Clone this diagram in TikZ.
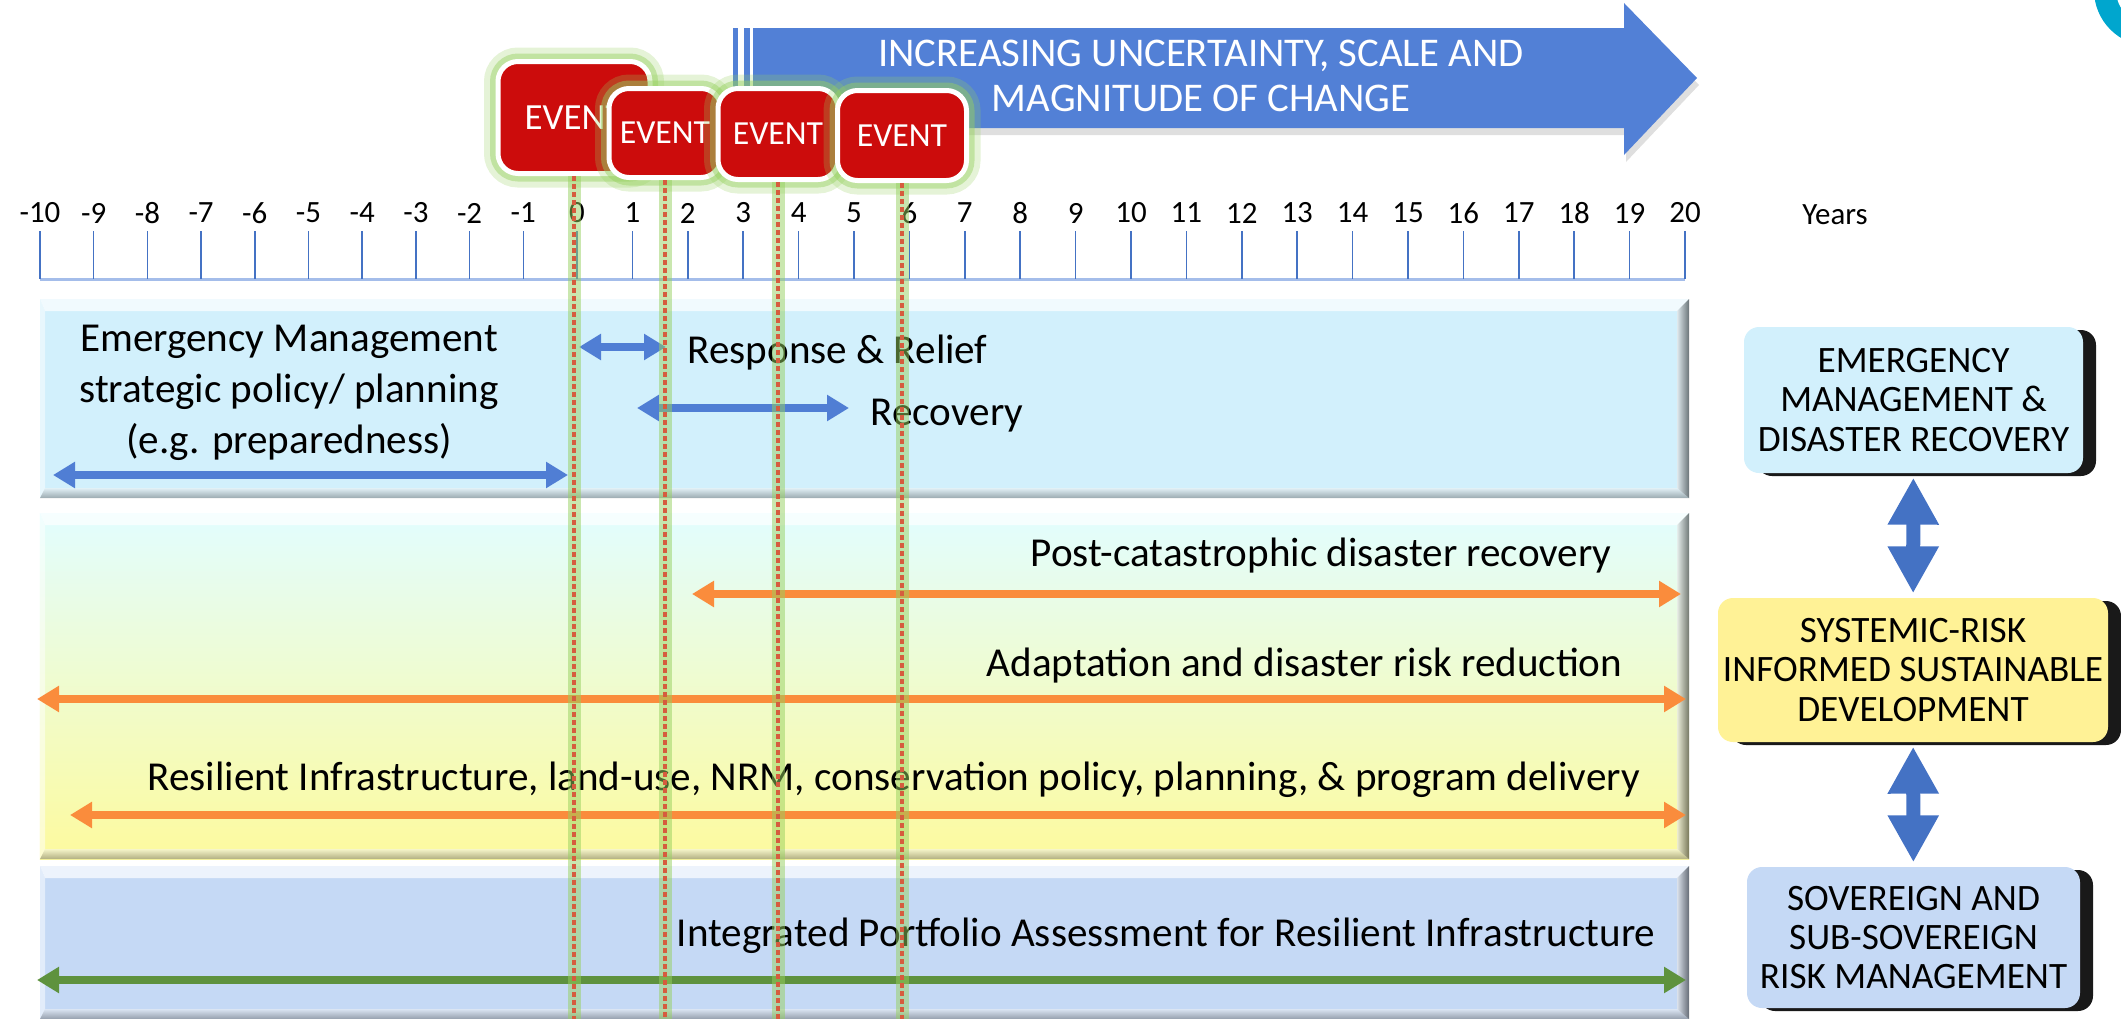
\documentclass[tikz,border=0pt]{standalone}
\usepackage{fontspec}
\setmainfont{Carlito}
\usetikzlibrary{arrows.meta,shadows}

\definecolor{changeblue}{RGB}{82,128,214}
\definecolor{tickblue}{RGB}{68,114,196}
\definecolor{axisblue}{RGB}{164,189,234}
\definecolor{eventred}{RGB}{204,12,12}
\definecolor{glowgreen}{RGB}{150,208,95}
\definecolor{dotred}{RGB}{214,92,62}
\definecolor{emfill}{RGB}{210,240,252}
\definecolor{sdtop}{RGB}{226,253,255}
\definecolor{sdmid}{RGB}{246,253,208}
\definecolor{sdbottom}{RGB}{253,250,158}
\definecolor{sdfill}{RGB}{255,242,150}
\definecolor{srfill}{RGB}{197,217,245}
\definecolor{spanblue}{RGB}{80,126,212}
\definecolor{spanorange}{RGB}{250,140,60}
\definecolor{spangreen}{RGB}{94,146,62}
\definecolor{logocyan}{RGB}{0,166,206}

\begin{document}
\begin{tikzpicture}[x=1cm,y=-1cm,
  tick/.style={draw=tickblue, line width=0.45pt},
  ticklabel/.style={font=\fontsize{8.8}{10}\selectfont, inner sep=0},
  bandtext/.style={font=\fontsize{11.7}{14.5}\selectfont, inner sep=0},
  span/.style={draw=#1, line width=0.085cm, >={Triangle[width=0.25cm,length=0.22cm]}, <->},
  eventbox/.style={rounded corners=0.2cm, fill=eventred, draw=white, line width=0.05cm,
    text=white, inner sep=0, font=\fontsize{9.6}{11}\selectfont,
    preaction={draw=glowgreen, line width=0.28cm, draw opacity=0.25},
    preaction={draw=glowgreen, line width=0.16cm, draw opacity=0.45}},
  eventline/.style={draw=glowgreen, line width=0.13cm, draw opacity=0.5,
    postaction={draw=dotred, draw opacity=1, line width=0.035cm, dash pattern=on 0.05cm off 0.03cm}},
  sidebox/.style={rounded corners=0.15cm, align=center, inner sep=0,
    font=\fontsize{10.6}{11.2}\selectfont,
    drop shadow={shadow xshift=0.13cm, shadow yshift=-0.03cm, fill=black, opacity=0.9}},
  linkarrow/.style={draw=tickblue, line width=0.14cm, >={Triangle[width=0.48cm,length=0.47cm]}, <->,
    shorten <=0.04cm, shorten >=0.04cm}]

\useasboundingbox (0,0) rectangle (21.21,10.19);

% corner of the logo
\begin{scope}
  \clip (0,0) rectangle (21.21,10.19);
  \fill[logocyan] (21.50,-0.10) circle (0.56);
  \fill[white] (21.50,-0.10) circle (0.34);
\end{scope}

% striped arrow on top
\fill[changeblue, drop shadow={shadow xshift=0.02cm, shadow yshift=-0.07cm, opacity=0.25}]
  (7.53,0.28) -- (16.24,0.28) -- (16.24,0.03) -- (16.97,0.78) -- (16.24,1.55)
  -- (16.24,1.28) -- (7.53,1.28) -- cycle;
\fill[changeblue] (7.33,0.28) rectangle (7.38,1.28);
\fill[changeblue] (7.44,0.28) rectangle (7.50,1.28);
\node[font=\fontsize{11.6}{12.8}\selectfont, text=white, align=center, inner sep=0] (change)
  at (12.01,0.755) {INCREASING UNCERTAINTY, SCALE AND\\MAGNITUDE OF CHANGE};

% time axis
\draw[draw=axisblue, line width=0.03cm] (0.40,2.79) -- (16.85,2.79);
\foreach \i in {-10,...,0} {
  \draw[tick] (5.77+0.537*\i,2.31) -- (5.77+0.537*\i,2.79);
  \node[ticklabel] (yr\i) at (5.77+0.537*\i,2.13) {\i};
}
\foreach \i in {1,...,20} {
  \draw[tick] (5.77+0.554*\i,2.31) -- (5.77+0.554*\i,2.79);
  \node[ticklabel] (yr\i) at (5.77+0.554*\i,2.13) {\i};
}
\node[ticklabel] (years) at (18.35,2.15) {Years};

% bands
\fill[emfill] (0.40,2.99) rectangle (16.89,4.98);
\shade[top color=sdtop, middle color=sdmid, bottom color=sdbottom] (0.40,5.13) rectangle (16.89,8.59);
\fill[srfill] (0.40,8.66) rectangle (16.89,10.19);
\foreach \a/\b in {2.99/4.98, 5.13/8.59, 8.66/10.19} {
  \fill[white, opacity=0.7] (0.40,\a) -- (16.89,\a) -- (16.77,\a+0.12) -- (0.45,\a+0.12) -- cycle;
  \fill[white, opacity=0.5] (0.40,\a) -- (0.45,\a+0.12) -- (0.45,\b-0.1) -- (0.40,\b) -- cycle;
  \shade[left color=black!10, right color=black!80, opacity=0.65]
    (16.89,\a) -- (16.89,\b) -- (16.77,\b-0.1) -- (16.77,\a+0.12) -- cycle;
  \shade[top color=black!5, bottom color=black!60, opacity=0.5]
    (0.40,\b) -- (16.89,\b) -- (16.77,\b-0.1) -- (0.45,\b-0.1) -- cycle;
}

% emergency management band
\node[bandtext, align=center] (emplan) at (2.89,3.93)
  {Emergency Management\\strategic policy/ planning\\(e.g. preparedness)};
\coordinate (em-l) at (0.53,4.75);
\coordinate (em-r) at (5.68,4.75);
\draw[span=spanblue] (em-l) -- (em-r);
\node[bandtext, anchor=west] (relief) at (6.87,3.53) {Response \& Relief};
\coordinate (rr-l) at (5.79,3.47);
\coordinate (rr-r) at (6.66,3.47);
\draw[span=spanblue] (rr-l) -- (rr-r);
\node[bandtext, anchor=west] (recovery) at (8.70,4.16) {Recovery};
\coordinate (rc-l) at (6.37,4.08);
\coordinate (rc-r) at (8.49,4.08);
\draw[span=spanblue] (rc-l) -- (rc-r);

% sustainable development band
\node[bandtext, anchor=east] (postcat) at (16.12,5.56) {Post-catastrophic disaster recovery};
\coordinate (pc-l) at (6.92,5.94);
\coordinate (pc-r) at (16.81,5.94);
\draw[span=spanorange] (pc-l) -- (pc-r);
\node[bandtext, anchor=east] (adapt) at (16.23,6.66) {Adaptation and disaster risk reduction};
\coordinate (ad-l) at (0.37,6.99);
\coordinate (ad-r) at (16.86,6.99);
\draw[span=spanorange] (ad-l) -- (ad-r);
\node[bandtext, anchor=west] (resil) at (1.47,7.80)
  {Resilient Infrastructure, land-use, NRM, conservation policy, planning, \& program delivery};
\coordinate (ri-l) at (0.70,8.15);
\coordinate (ri-r) at (16.86,8.15);
\draw[span=spanorange] (ri-l) -- (ri-r);

% risk management band
\node[bandtext, anchor=west] (ipa) at (6.76,9.36)
  {Integrated Portfolio Assessment for Resilient Infrastructure};
\coordinate (ip-l) at (0.37,9.80);
\coordinate (ip-r) at (16.86,9.80);
\draw[span=spangreen] (ip-l) -- (ip-r);

% events
\node[eventbox, minimum width=1.52cm, minimum height=1.12cm, font=\fontsize{10.5}{12}\selectfont]
  (ev1) at (5.74,1.175) {EVENT};
\node[eventbox, minimum width=1.12cm, minimum height=0.89cm] (ev2) at (6.65,1.33) {EVENT};
\node[eventbox, minimum width=1.20cm, minimum height=0.91cm] (ev3) at (7.78,1.34) {EVENT};
\node[eventbox, minimum width=1.29cm, minimum height=0.90cm] (ev4) at (9.02,1.355) {EVENT};
\foreach \e in {1,...,4}
  \draw[eventline] (ev\e.south) -- (ev\e.south |- 0,10.19);

% side boxes
\node[sidebox, fill=emfill, minimum width=3.39cm, minimum height=1.46cm] (emBox)
  at (19.135,4.00) {EMERGENCY\\MANAGEMENT \&\\DISASTER RECOVERY};
\node[sidebox, fill=sdfill, minimum width=3.90cm, minimum height=1.44cm] (sdBox)
  at (19.13,6.70) {SYSTEMIC-RISK\\INFORMED SUSTAINABLE\\DEVELOPMENT};
\node[sidebox, fill=srfill, minimum width=3.33cm, minimum height=1.41cm] (srBox)
  at (19.135,9.375) {SOVEREIGN AND\\SUB-SOVEREIGN\\RISK MANAGEMENT};
\draw[linkarrow] (emBox) -- (sdBox);
\draw[linkarrow] (sdBox) -- (srBox);
\end{tikzpicture}
\end{document}
